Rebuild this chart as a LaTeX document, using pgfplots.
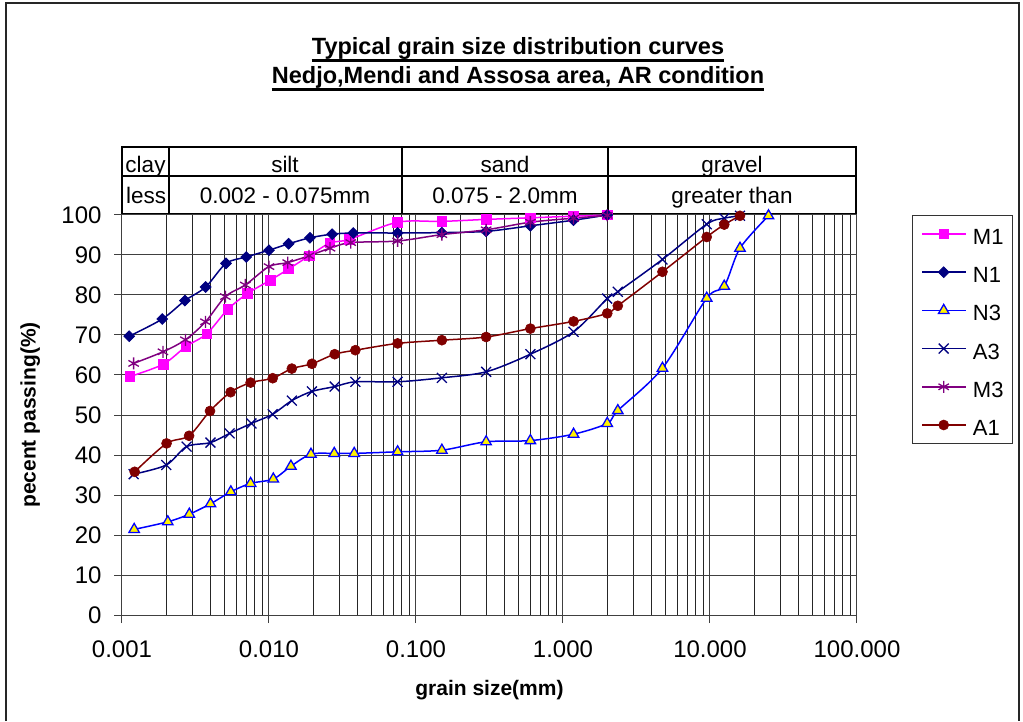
\documentclass[border=0pt]{standalone}
\usepackage{fontspec}
\setmainfont{Liberation Sans}
\usepackage{pgfplots}
\pgfplotsset{compat=1.18}

\definecolor{cM1}{HTML}{FF00FF}
\definecolor{cN1}{HTML}{000080}
\definecolor{cN3}{HTML}{0000FF}
\definecolor{cA3}{HTML}{000080}
\definecolor{cM3}{HTML}{800080}
\definecolor{cA1}{HTML}{800000}

\begin{document}
\begin{tikzpicture}
% page in px, y downwards
\begin{scope}[x=1pt,y=-1pt,shift={(0pt,721pt)}]
  \useasboundingbox (0,0) rectangle (1023,721);
  \draw[line width=1.5pt, black!85] (6,721) -- (6,3) -- (1019,3) -- (1019,721);
  % title
  \node[anchor=base, inner sep=0pt, font=\bfseries\fontsize{23.5}{28}\selectfont] (t1) at (518,54.5) {Typical grain size distribution curves};
  \draw[line width=2.6pt] ([yshift=-6pt]t1.base west) -- ([yshift=-6pt]t1.base east);
  \node[anchor=base, inner sep=0pt, font=\bfseries\fontsize{23.5}{28}\selectfont] (t2) at (518,83.5) {Nedjo,Mendi and Assosa area, AR condition};
  \draw[line width=2.6pt] ([yshift=-6pt]t2.base west) -- ([yshift=-6pt]t2.base east);
  % soil class header
  \draw[line width=1.2pt] (122,147) rectangle (856,214);
  \draw[line width=1.2pt] (122,176) -- (856,176);
  \foreach \xx in {169,402,608} \draw[line width=1.2pt] (\xx,147) -- (\xx,214);
  \begin{scope}[every node/.style={anchor=base, inner sep=0pt, font=\fontsize{22.5}{27}\selectfont}]
    \node at (145.5,173) {clay};
    \node at (285,173) {silt};
    \node at (505,173) {sand};
    \node at (732,173) {gravel};
    \node[anchor=base west] at (126,204) {less};
    \node at (285,204) {0.002 - 0.075mm};
    \node at (505,204) {0.075 - 2.0mm};
    \node at (732,204) {greater than};
  \end{scope}
\end{scope}

\begin{axis}[
  at={(122pt,106pt)}, anchor=south west,
  scale only axis, width=735pt, height=400pt,
  xmode=log, log basis x=10,
  xmin=0.001, xmax=100, ymin=0, ymax=100,
  xtick={0.001,0.01,0.1,1,10,100},
  xticklabels={0.001,0.010,0.100,1.000,10.000,100.000},
  minor xtick={0.002,0.003,0.004,0.005,0.006,0.007,0.008,0.009,
               0.02,0.03,0.04,0.05,0.06,0.07,0.08,0.09,
               0.2,0.3,0.4,0.5,0.6,0.7,0.8,0.9,
               2,3,4,5,6,7,8,9,
               20,30,40,50,60,70,80,90},
  ytick={0,10,...,100},
  grid=both,
  major grid style={black!75, line width=1pt},
  minor grid style={black!85, line width=0.65pt},
  axis line style={black!75, line width=1pt},
  tick align=outside, major tick length=8pt, minor tick length=0pt,
  tick pos=left,
  tick style={black!75, line width=1pt},
  /pgf/number format/assume math mode=true,
  ticklabel style={font=\fontsize{24}{28}\selectfont},
  xticklabel style={yshift=-14pt},
  yticklabel style={xshift=-9pt},
  xlabel={grain size(mm)},
  ylabel={pecent passing(\%)},
  label style={font=\bfseries\fontsize{21}{25}\selectfont},
  xlabel style={at={(axis description cs:0.5,-0.1875)}, anchor=center},
  ylabel style={at={(axis description cs:-0.125,0.5)}, anchor=center},
  legend cell align=left,
  legend style={at={(rel axis cs:1.0748,1)}, anchor=north west,
    draw=black!80, line width=1pt, fill=white,
    font=\fontsize{22}{26}\selectfont,
    inner xsep=9pt, inner ysep=8pt, row sep=17.2pt, column sep=7pt,
    nodes={inner sep=0pt, text height=21pt, text depth=0pt}},
  legend image code/.code={\draw[mark repeat=2,mark phase=2,#1] plot coordinates {(0pt,0pt) (21.5pt,0pt) (43pt,0pt)};},
  every axis plot/.append style={line width=1.5pt, smooth},
]

\addplot[color=cM1, mark=square*, mark size=4.8pt, mark options={line width=0.8pt}] coordinates {
  (0.00113,59.6) (0.00191,62.7) (0.00272,67.1) (0.00377,70.3) (0.00524,76.4)
  (0.00716,80.4) (0.0102,83.7) (0.0136,86.5) (0.0188,89.8) (0.026,93.0)
  (0.0352,93.9) (0.075,98.2) (0.15,98.4) (0.3,98.9) (0.6,99.3) (1.18,99.7) (2.0,100)
};
\addlegendentry{M1}

\addplot[color=cN1, mark=square*, mark size=3.8pt, mark options={rotate=45, line width=0.8pt}] coordinates {
  (0.00112,69.7) (0.00188,74.0) (0.00268,78.6) (0.00371,82.0) (0.0051,87.9)
  (0.0070,89.5) (0.0100,91.2) (0.0136,92.8) (0.0190,94.3) (0.0269,95.2)
  (0.0374,95.5) (0.075,95.5) (0.15,95.6) (0.3,95.9) (0.6,97.3) (1.18,98.7) (2.0,100)
};
\addlegendentry{N1}

\addplot[color=cN3, mark=triangle*, mark size=6pt, mark options={fill=yellow, draw=cN3, line width=1.3pt}] coordinates {
  (0.00121,21.4) (0.00205,23.3) (0.00287,25.2) (0.0040,27.8) (0.0055,30.8)
  (0.0075,32.9) (0.0107,34.0) (0.0141,37.2) (0.0193,40.2) (0.0278,40.4)
  (0.038,40.4) (0.075,40.8) (0.15,41.2) (0.3,43.3) (0.6,43.6) (1.18,45.2)
  (2.0,47.9) (2.36,51.1) (4.75,61.7) (9.5,79.2) (12.5,82.2) (16,91.7) (25,99.8)
};
\addlegendentry{N3}

\addplot[color=cA3, mark=x, mark size=7pt, mark options={line width=1.3pt}] coordinates {
  (0.0012,35.2) (0.0020,37.5) (0.00275,42.1) (0.0040,43.1) (0.0054,45.4)
  (0.0076,47.9) (0.0106,50.2) (0.0143,53.6) (0.0196,55.9) (0.028,57.1)
  (0.0387,58.3) (0.075,58.3) (0.15,59.3) (0.3,60.8) (0.6,65.2) (1.18,70.8)
  (2.0,79.1) (2.36,80.8) (4.75,88.9) (9.5,97.7) (12.5,99.2) (16,99.8)
};
\addlegendentry{A3}

\addplot[color=cM3, mark=asterisk, mark size=6pt, mark options={line width=1.3pt}] coordinates {
  (0.0012,62.9) (0.0019,65.8) (0.0027,68.8) (0.0037,73.3) (0.00505,79.6)
  (0.0069,82.5) (0.0100,87.1) (0.0134,88.1) (0.0187,89.8) (0.026,91.7)
  (0.036,93.1) (0.075,93.5) (0.15,95.1) (0.3,96.3) (0.6,98.2) (1.18,99.2) (2.0,99.9)
};
\addlegendentry{M3}

\addplot[color=cA1, mark=*, mark size=5pt, mark options={line width=0.6pt}] coordinates {
  (0.00122,35.8) (0.00201,42.9) (0.00286,44.8) (0.00397,51.0) (0.00548,55.7)
  (0.0075,58.1) (0.0106,59.2) (0.0143,61.6) (0.0196,62.8) (0.028,65.2)
  (0.0387,66.2) (0.075,67.9) (0.15,68.7) (0.3,69.5) (0.6,71.6) (1.18,73.4)
  (2.0,75.4) (2.36,77.3) (4.75,85.8) (9.5,94.5) (12.5,97.6) (16,99.8)
};
\addlegendentry{A1}

\end{axis}
\end{tikzpicture}
\end{document}
